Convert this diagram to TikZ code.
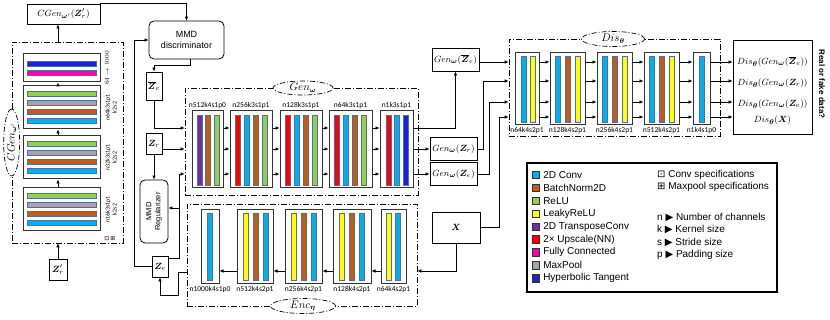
\documentclass[tikz,border=0pt]{standalone}
\usepackage{amsmath,bm}
\usepackage{fontspec}
\newfontfamily\arialfont{Liberation Sans}
\newfontfamily\specfont{Carlito}
\newfontfamily\symbfont{DejaVu Sans}
\usetikzlibrary{arrows.meta, positioning, shapes.geometric}
\definecolor{convblue}{RGB}{0,176,240}
\definecolor{bnbrown}{RGB}{197,90,17}
\definecolor{relugreen}{RGB}{146,208,80}
\definecolor{leakyyellow}{RGB}{255,255,0}
\definecolor{tconvpurple}{RGB}{112,48,160}
\definecolor{upred}{RGB}{255,0,0}
\definecolor{fcpink}{RGB}{255,0,170}
\definecolor{poolgray}{RGB}{168,162,172}
\definecolor{tanhblue}{RGB}{30,30,220}
\definecolor{barline}{RGB}{80,110,160}

\tikzset{
  dashbox/.style={draw, line width=0.7pt, dash pattern=on 6pt off 2pt on 1pt off 2pt, inner sep=0pt},
  tagellipse/.style={ellipse, draw, fill=white, line width=0.7pt, dash pattern=on 5pt off 2pt on 1pt off 2pt, inner sep=0pt, font=\fontsize{10.5}{12}\selectfont},
  layerbox/.style={draw=black!80, line width=1pt, fill=white, inner sep=0pt},
  iobox/.style={draw, line width=0.8pt, fill=white, inner sep=0pt, font=\fontsize{9.5}{11}\selectfont},
  outtext/.style={inner sep=0pt, font=\fontsize{9.5}{11}\selectfont},
  roundbox/.style={draw, line width=0.8pt, rounded corners=5pt, inner sep=0pt, align=center, font=\arialfont\fontsize{9}{10.5}\selectfont},
  spec/.style={font=\specfont\fontsize{7.5}{8}\selectfont, inner sep=0.5pt},
  sidespec/.style={font=\specfont\fontsize{6}{7}\selectfont, inner sep=0pt, rotate=90, align=center},
  conn/.style={-{Latex[length=4pt,width=3.6pt]}, line width=0.7pt},
  swatch/.style={draw=black!80, line width=0.6pt, minimum size=7.5pt, inner sep=0pt},
  legtext/.style={font=\arialfont\fontsize{10}{12}\selectfont, inner sep=0pt, anchor=west},
}

% vertical bars: first centre x, pitch, top, bottom, colours
\newcommand{\vbars}[5]{%
  \foreach \c [count=\i from 0] in {#5}
    \filldraw[fill=\c, draw=barline, line width=0.5pt]
      ({#1+\i*#2-2.5},#3) rectangle ({#1+\i*#2+2.5},#4);
}
% horizontal bars: first centre y, pitch, left, right, colours
\newcommand{\hbars}[5]{%
  \foreach \c [count=\i from 0] in {#5}
    \filldraw[fill=\c, draw=barline, line width=0.5pt]
      (#3,{#1+\i*#2-2.5}) rectangle (#4,{#1+\i*#2+2.5});
}
\newcommand{\zbar}{\overline{\bm Z}}

\begin{document}
\begin{tikzpicture}[x=1pt, y=-1pt]
  \useasboundingbox (0,0) rectangle (830,320);

  % conditional generator (left column)
  \node[dashbox, minimum width=111, minimum height=201] (cgenbox) at (67.5,142.5) {};
  \node[tagellipse, rotate=90, minimum width=67, minimum height=16] (cgentag) at (cgenbox.west) {$CGen_{\bm\omega'}$};
  \node[layerbox, minimum width=77, minimum height=28] (c1) at (61.5,68) {};
  \hbars{64}{9}{27}{96}{tanhblue,fcpink}
  \node[layerbox, minimum width=77, minimum height=43] (c2) at (61.5,107.5) {};
  \hbars{93.5}{9}{27}{96}{relugreen,poolgray,bnbrown,convblue}
  \node[layerbox, minimum width=77, minimum height=43] (c3) at (61.5,157.5) {};
  \hbars{143.5}{9}{27}{96}{relugreen,poolgray,bnbrown,convblue}
  \node[layerbox, minimum width=77, minimum height=43] (c4) at (61.5,209.5) {};
  \hbars{195.5}{9}{27}{96}{relugreen,poolgray,bnbrown,convblue}
  \node[sidespec] (s1) at (107,68) {$64\rightarrow1000$};
  \node[sidespec] (s2) at (111,107.5) {n64k3s1p1\\k2s2};
  \node[sidespec] (s3) at (111,157.5) {n32k3s1p1\\k2s2};
  \node[sidespec] (s4) at (111,209.5) {n16k3s1p1\\k2s2};
  \node[font=\symbfont\fontsize{6}{7}\selectfont, inner sep=0pt] (icons) at (110,239) {⊡\,⊞};

  \node[iobox, minimum width=73, minimum height=20] (cgen) at (63.5,14) {$CGen_{\bm\omega'}(\bm Z'_r)$};
  \node[iobox, minimum width=18, minimum height=21] (zpr) at (58,269.5) {$\bm Z'_r$};

  \draw[conn] (zpr.north) -- (cgenbox.south -| zpr);
  \draw[conn] (c4.north -| zpr) -- (c3.south -| zpr);
  \draw[conn] (c3.north -| zpr) -- (c2.south -| zpr);
  \draw[conn] (c2.north -| zpr) -- (c1.south -| zpr);
  \draw[conn] (cgenbox.north -| zpr) -- (cgen.south -| zpr);

  % MMD parts
  \node[roundbox, minimum width=75, minimum height=38] (mmd) at (186.5,40) {MMD\\discriminator};
  \node[iobox, minimum width=16, minimum height=28] (zbar) at (154,86) {$\zbar_e$};
  \node[iobox, minimum width=16, minimum height=21] (zr) at (154,143.5) {$\bm Z_r$};
  \node[roundbox, rotate=90, minimum width=63, minimum height=28, font=\arialfont\fontsize{7.5}{9}\selectfont] (mmdreg) at (154,211.5) {MMD\\Regularizer};
  \node[iobox, minimum width=16, minimum height=21] (ze) at (160,266.5) {$\bm Z_e$};

  % generator
  \node[dashbox, minimum width=233, minimum height=107] (genbox) at (301.5,141.5) {};
  \node[tagellipse, minimum width=60, minimum height=14] (gentag) at (303,88) {$Gen_{\bm\omega}$};
  \node[layerbox, minimum width=31, minimum height=77] (g1) at (207.5,149.5) {};
  \vbars{199.5}{8.5}{115}{185}{tconvpurple,bnbrown,relugreen}
  \node[layerbox, minimum width=42, minimum height=77] (g2) at (251,149.5) {};
  \vbars{237.5}{9}{115}{185}{upred,convblue,bnbrown,relugreen}
  \node[layerbox, minimum width=42, minimum height=77] (g3) at (301,149.5) {};
  \vbars{287.5}{9}{115}{185}{upred,convblue,bnbrown,relugreen}
  \node[layerbox, minimum width=43, minimum height=77] (g4) at (350.5,149.5) {};
  \vbars{337}{9}{115}{185}{upred,convblue,bnbrown,relugreen}
  \node[layerbox, minimum width=33, minimum height=77] (g5) at (396.5,149.5) {};
  \vbars{388.5}{8.5}{115}{185}{upred,convblue,tanhblue}
  \node[spec, above=1pt of g1] (lg1) {n512k4s1p0};
  \node[spec, above=1pt of g2] (lg2) {n256k3s1p1};
  \node[spec, above=1pt of g3] (lg3) {n128k3s1p1};
  \node[spec, above=1pt of g4] (lg4) {n64k3s1p1};
  \node[spec, above=1pt of g5] (lg5) {n1k3s1p1};
  \foreach \a/\b in {g1/g2,g2/g3,g3/g4,g4/g5}
    \foreach \y in {128,149,174}
      \draw[conn] (\a.east |- 0,\y) -- (\b.west |- 0,\y);

  % encoder
  \node[dashbox, minimum width=230, minimum height=102] (encbox) at (302,255) {};
  \node[tagellipse, minimum width=65, minimum height=15] (enctag) at (303,306) {$Enc_{\bm\eta}$};
  \node[layerbox, minimum width=18, minimum height=74] (e1) at (210,247) {};
  \vbars{209.5}{10}{213}{280}{convblue}
  \node[layerbox, minimum width=36, minimum height=74] (e2) at (255,247) {};
  \vbars{245.5}{10}{213}{280}{leakyyellow,bnbrown,convblue}
  \node[layerbox, minimum width=37, minimum height=74] (e3) at (303.5,247) {};
  \vbars{293.5}{10}{213}{280}{leakyyellow,bnbrown,convblue}
  \node[layerbox, minimum width=38, minimum height=74] (e4) at (352,247) {};
  \vbars{342}{10}{213}{280}{leakyyellow,bnbrown,convblue}
  \node[layerbox, minimum width=25, minimum height=74] (e5) at (393.5,247) {};
  \vbars{389}{8.5}{213}{280}{leakyyellow,convblue}
  \node[spec, below=1pt of e1] (le1) {n1000k4s1p0};
  \node[spec, below=1pt of e2] (le2) {n512k4s2p1};
  \node[spec, below=1pt of e3] (le3) {n256k4s2p1};
  \node[spec, below=1pt of e4] (le4) {n128k4s2p1};
  \node[spec, below=1pt of e5] (le5) {n64k4s2p1};
  \foreach \a/\b in {e5/e4,e4/e3,e3/e2,e2/e1}
    \draw[conn] (\a.west |- 0,271) -- (\b.east |- 0,271);

  % generated samples and real data
  \node[iobox, minimum width=47, minimum height=23] (gzbar) at (455.5,59.5) {$Gen_{\bm\omega}(\zbar_e)$};
  \node[iobox, minimum width=47, minimum height=23] (gzr) at (453.5,149) {$Gen_{\bm\omega}(\bm Z_r)$};
  \node[iobox, minimum width=47, minimum height=23] (gze) at (453.5,174) {$Gen_{\bm\omega}(\bm Z_e)$};
  \node[iobox, minimum width=48, minimum height=31] (xbox) at (456,227.5) {$\bm X$};

  % discriminator
  \node[dashbox, minimum width=211, minimum height=97] (disbox) at (614.5,87.5) {};
  \node[tagellipse, minimum width=63, minimum height=15] (distag) at (613,39) {$Dis_{\bm\theta}$};
  \node[layerbox, minimum width=24, minimum height=72] (d1) at (527,89) {};
  \vbars{523.5}{9}{56}{122}{convblue,leakyyellow}
  \node[layerbox, minimum width=35, minimum height=72] (d2) at (567.5,89) {};
  \vbars{557.5}{10}{56}{122}{convblue,bnbrown,leakyyellow}
  \node[layerbox, minimum width=35, minimum height=72] (d3) at (614.5,89) {};
  \vbars{604.5}{10}{56}{122}{convblue,bnbrown,leakyyellow}
  \node[layerbox, minimum width=35, minimum height=72] (d4) at (661.5,89) {};
  \vbars{651.5}{10}{56}{122}{convblue,bnbrown,leakyyellow}
  \node[layerbox, minimum width=17, minimum height=72] (d5) at (701.5,89) {};
  \vbars{701.5}{10}{56}{122}{convblue}
  \node[spec, below=1pt of d1] (ld1) {n64k4s2p1};
  \node[spec, below=1pt of d2] (ld2) {n128k4s2p1};
  \node[spec, below=1pt of d3] (ld3) {n256k4s2p1};
  \node[spec, below=1pt of d4] (ld4) {n512k4s2p1};
  \node[spec, below=1pt of d5] (ld5) {n1k4s1p0};

  \node[iobox, minimum width=79, minimum height=94] (outbox) at (772.5,87) {};
  \node[outtext] (o1) at (772.5,62) {$Dis_{\bm\theta}(Gen_{\bm\omega}(\zbar_e))$};
  \node[outtext] (o2) at (772.5,83) {$Dis_{\bm\theta}(Gen_{\bm\omega}(\bm Z_r))$};
  \node[outtext] (o3) at (772.5,104) {$Dis_{\bm\theta}(Gen_{\bm\omega}(\bm Z_e))$};
  \node[outtext] (o4) at (772.5,120) {$Dis_{\bm\theta}(\bm X)$};
  \node[font=\arialfont\bfseries\fontsize{8}{9}\selectfont, rotate=-90, inner sep=0pt] (verdict) at (822,84) {Real or fake data?};

  \foreach \a/\b in {d1/d2,d2/d3,d3/d4,d4/d5,d5/outbox}
    \foreach \y in {62,81,102,117}
      \draw[conn] (\a.east |- 0,\y) -- (\b.west |- 0,\y);

  % connectors
  \draw[conn] (cgen.north east) -| (mmd.north);
  \draw[conn] ([xshift=3.5]mmd.south) -- ++(0,6) -| (zbar.north);
  \draw[conn] (zbar.south) |- (genbox.west |- 0,128);
  \draw[conn] (zr.east |- 0,149) -- (genbox.west |- 0,149);
  \draw[conn] (zr.south) -- (mmdreg.east);
  \coordinate (zejoin) at (179,258);
  \draw[conn] (ze.east |- zejoin) -- (zejoin) |- (genbox.west |- 0,174);
  \draw[conn] (zejoin |- 0,208) -- (mmdreg.south |- 0,208);
  \draw[conn] (ze.west) -- ++(-17,0) |- (mmd.west);
  \draw[conn] (encbox.west |- 0,272) -- ++(-8,0) |- ([yshift=-18]ze.south) -- (ze.south);
  \draw[conn] (g5.east |- 0,128) -| (gzbar.south);
  \draw[conn] (g5.east |- 0,149) -- (gzr.west);
  \draw[conn] (g5.east |- 0,174) -- (gze.west);
  \draw[conn] (gzbar.east |- 0,62) -- (disbox.west |- 0,62);
  \draw[conn] (gzr.east) -- ++(6,0) |- (disbox.west |- 0,81);
  \draw[conn] (gze.east) -- ++(12,0) |- (disbox.west |- 0,102);
  \draw[conn] (xbox.east) -- ++(19,0) |- (disbox.west |- 0,117);
  \draw[conn] (xbox.south) |- (encbox.east |- 0,271);

  % legend
  \node[draw, line width=1.3pt, minimum width=250, minimum height=129, inner sep=0pt] (legend) at (652,227.5) {};
  \foreach \c/\t [count=\i from 0] in {convblue/2D Conv, bnbrown/BatchNorm2D, relugreen/ReLU,
      leakyyellow/LeakyReLU, tconvpurple/2D TransposeConv, upred/2× Upscale(NN),
      fcpink/Fully Connected, poolgray/MaxPool, tanhblue/Hyperbolic Tangent} {
    \node[swatch, fill=\c] (sw\i) at (536,{175+\i*12.9}) {};
    \node[legtext, right=3pt of sw\i] (lt\i) {\t};
  }
  \node[legtext] (spec1) at (657,175) {{\symbfont ⊡}\ Conv specifications};
  \node[legtext] (spec2) at (657,187) {{\symbfont ⊞}\ Maxpool specifications};
  \node[legtext] (key1) at (657,217) {n {\symbfont ▶} Number of channels};
  \node[legtext] (key2) at (657,229) {k {\symbfont ▶} Kernel size};
  \node[legtext] (key3) at (657,242) {s {\symbfont ▶} Stride size};
  \node[legtext] (key4) at (657,255) {p {\symbfont ▶} Padding size};
\end{tikzpicture}
\end{document}
